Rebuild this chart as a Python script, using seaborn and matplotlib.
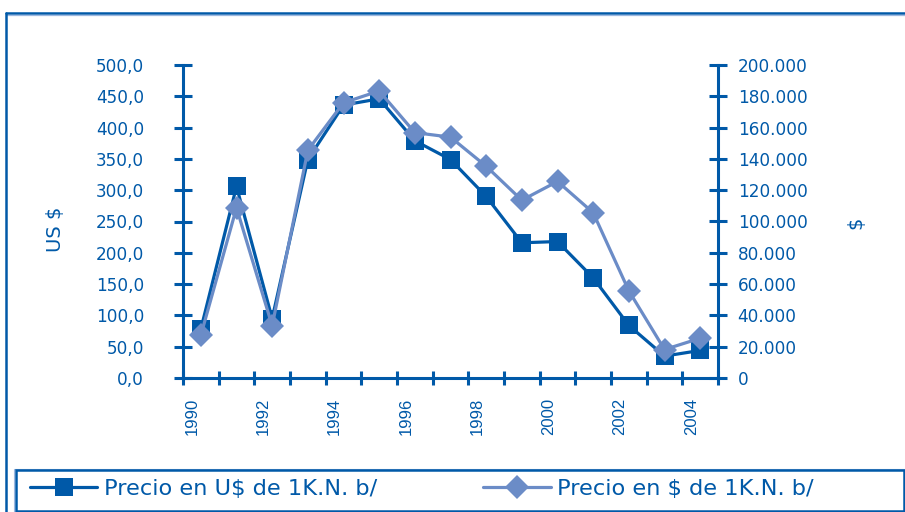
import numpy as np
import pandas as pd
import matplotlib
matplotlib.use("Agg")
import matplotlib.pyplot as plt
import seaborn as sns
from matplotlib.lines import Line2D
from matplotlib.patches import Rectangle

# Price series, one value per year
years = list(range(1990, 2005))
precio_usd = [78, 306, 95, 349, 436, 446, 379, 349, 290, 216, 218, 160, 84, 35, 44]
precio_pesos = [27300, 108800, 33400, 145500, 175900, 183400, 156800, 153900,
                135300, 113600, 125600, 105600, 55700, 18200, 25400]

left_ticks = list(range(0, 501, 50))
right_ticks = list(range(0, 200001, 20000))
label_years = years[::2]

serie_usd = "Precio en U\\$ de 1K.N. b/"
serie_pesos = "Precio en \\$ de 1K.N. b/"

DARK = "#0059A8"
LIGHT = "#6B8CC7"
PALE = "#9DB8E0"

sns.set_style("white")
plt.rcParams["font.family"] = ["DejaVu Sans"]

W, H = 905, 512
fig = plt.figure(figsize=(W / 100, H / 100), dpi=100)
ax = fig.add_axes([183 / W, (H - 378) / H, (718 - 183) / W, (378 - 65) / H])

df = pd.DataFrame({"pos": np.arange(len(years)) + 0.5,
                   "usd": precio_usd, "pesos": precio_pesos})

SQ_MS = 12.5
DI_MS = 12.5

sns.lineplot(data=df, x="pos", y="usd", ax=ax, color=DARK, linewidth=2.3,
             marker="s", markersize=SQ_MS, markeredgewidth=0, legend=False)
ax2 = ax.twinx()
sns.lineplot(data=df, x="pos", y="pesos", ax=ax2, color=LIGHT, linewidth=2.3,
             marker="D", markersize=DI_MS, markeredgewidth=0, legend=False)

ax.set_xlim(0, len(years))
ax.set_ylim(0, 500)
ax2.set_ylim(0, 200000)
ax.set_xlabel("")
ax.set_ylabel("")
ax2.set_ylabel("")

for a in (ax, ax2):
    for s in a.spines.values():
        s.set_visible(False)
        s.set_color(DARK)
        s.set_linewidth(2.2)
ax.spines["left"].set_visible(True)
ax.spines["bottom"].set_visible(True)
ax2.spines["right"].set_visible(True)
ax.grid(False)
ax2.grid(False)

# Left axis
ax.set_yticks(left_ticks, labels=[f"{v:.1f}".replace(".", ",") for v in left_ticks])
ax.tick_params(axis="y", direction="inout", length=13, width=2.2, color=DARK,
               labelcolor=DARK, pad=21.5, labelsize=12.2, left=True)

# Right axis
ax2.set_yticks(right_ticks,
               labels=[f"{v:,.0f}".replace(",", ".") for v in right_ticks])
ax2.tick_params(axis="y", direction="inout", length=13.5, width=2.2, color=DARK,
                labelcolor=DARK, pad=7.4, labelsize=12.2, right=True)

# Year axis: tick marks between categories, labels on every other year
ax.set_xticks(np.arange(0, len(years) + 1))
ax.set_xticklabels([])
ax.tick_params(axis="x", which="major", direction="inout", length=9.5,
               width=2.2, color=DARK, bottom=True)
ax.set_xticks(np.arange(0, len(years), 2) + 0.25, minor=True)
ax.set_xticklabels([str(y) for y in label_years], minor=True, rotation=90,
                   color=DARK, fontsize=12, family="Liberation Sans")
ax.tick_params(axis="x", which="minor", length=0, pad=14.4)

# Axis titles
fig.text(56 / W, 1 - 229.6 / H, "US \\$", rotation=90, ha="center", va="center",
         fontsize=14, color=DARK)
fig.text(856 / W, 1 - 222.5 / H, "\\$", rotation=90, ha="center", va="center",
         fontsize=14, color=DARK)

# Legend
h_usd = Line2D([], [], color=DARK, lw=2.3, marker="s", markersize=SQ_MS,
               markeredgewidth=0)
h_pesos = Line2D([], [], color=LIGHT, lw=2.3, marker="D", markersize=DI_MS,
                 markeredgewidth=0)
for h, lab, x0 in ((h_usd, serie_usd, 30), (h_pesos, serie_pesos, 483)):
    leg = fig.legend(handles=[h], labels=[lab], loc="center left",
                     bbox_to_anchor=(x0 / W, 1 - 489 / H),
                     bbox_transform=fig.transFigure, frameon=False,
                     borderpad=0, borderaxespad=0, handlelength=3.0,
                     handletextpad=0.27, prop={"size": 16.2})
    for t in leg.get_texts():
        t.set_color(DARK)

fig.add_artist(Rectangle((14 / W, 1 - 511.5 / H), (904.5 - 14) / W,
                         (511.5 - 468.5) / H, transform=fig.transFigure,
                         fill=False, ec=PALE, lw=0.8))
fig.add_artist(Rectangle((15.5 / W, 1 - 510.5 / H), (903.5 - 15.5) / W,
                         (510.5 - 470.2) / H, transform=fig.transFigure,
                         fill=False, ec=DARK, lw=1.8))

# Outer frame (top and left edges)
fig.add_artist(Line2D([6 / W, 1], [1 - 12.5 / H, 1 - 12.5 / H],
                      transform=fig.transFigure, color=DARK, lw=1.8))
fig.add_artist(Line2D([6.5 / W, 1], [1 - 14.5 / H, 1 - 14.5 / H],
                      transform=fig.transFigure, color=PALE, lw=0.9))
fig.add_artist(Line2D([6 / W, 6 / W], [0, 1 - 12.5 / H],
                      transform=fig.transFigure, color=DARK, lw=1.8))

fig.savefig("out.png", dpi=100)
